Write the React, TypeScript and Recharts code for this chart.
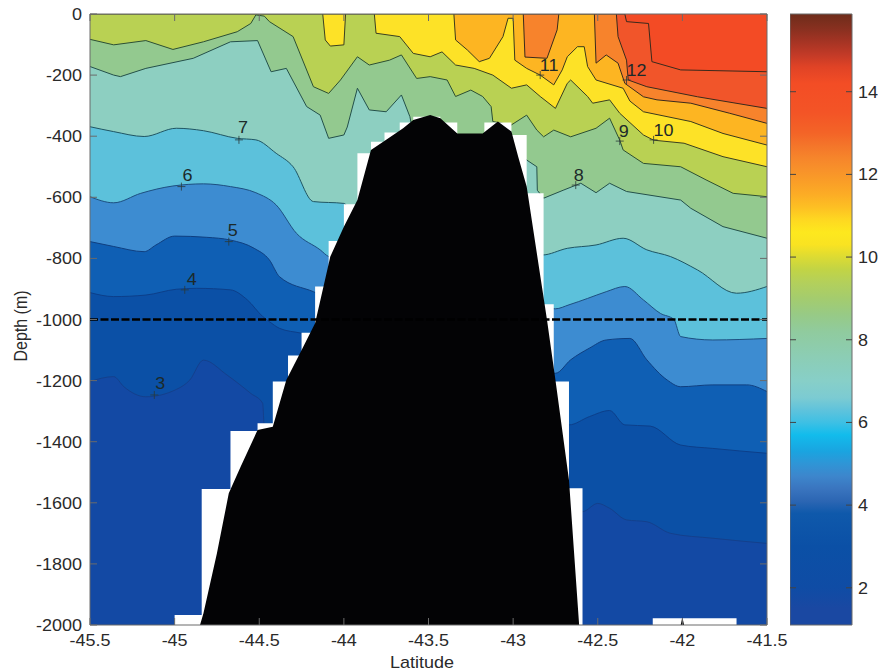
import { Area, ComposedChart, Line, ReferenceArea, Scatter, XAxis, YAxis } from "recharts"

type Pt = [number, number]

const latTicks = [-45.5, -45, -44.5, -44, -43.5, -43, -42.5, -42, -41.5]
const depthTicks = [0, -200, -400, -600, -800, -1000, -1200, -1400, -1600, -1800, -2000]
const colorbarTicks = [2, 4, 6, 8, 10, 12, 14]

// isotherms, [latitude, depth]
const surface: Pt[] = [[-45.5, 0], [-41.5, 0]]
const iso14: Pt[] = [[-45.5, 0], [-42.34, 0], [-42.33, -25], [-42.2, -31], [-42.18, -156], [-42.01, -183], [-41.5, -189]]
const iso13: Pt[] = [[-45.5, 0], [-42.39, 0], [-42.38, -74], [-42.33, -151], [-42.32, -216], [-42.21, -238], [-41.91, -271], [-41.5, -309]]
const iso12: Pt[] = [[-45.5, 0], [-42.94, 0], [-42.93, -141], [-42.8, -145], [-42.74, -52], [-42.73, 0], [-42.52, 0], [-42.51, -161], [-42.45, -134], [-42.38, -161], [-42.34, -227], [-42.23, -271], [-42.15, -281], [-41.95, -292], [-41.72, -325], [-41.5, -358]]
const iso11: Pt[] = [[-45.5, 0], [-43.35, 0], [-43.34, -85], [-43.27, -118], [-43.2, -156], [-43.14, -145], [-43.06, -74], [-43.03, -14], [-43.0, -14], [-42.99, -151], [-42.92, -178], [-42.84, -200], [-42.76, -232], [-42.71, -183], [-42.68, -140], [-42.62, -107], [-42.58, -107], [-42.56, -172], [-42.51, -216], [-42.35, -243], [-42.31, -285], [-42.23, -320], [-41.95, -352], [-41.76, -391], [-41.5, -429]]
const iso10: Pt[] = [[-45.5, 0], [-44.125, 0], [-44.11, -85], [-44.08, -105], [-44.0, -101], [-43.99, 0], [-43.82, 0], [-43.81, -63], [-43.67, -74], [-43.59, -129], [-43.49, -140], [-43.42, -124], [-43.34, -167], [-43.23, -178], [-43.12, -200], [-43.01, -243], [-42.92, -232], [-42.84, -270], [-42.75, -309], [-42.68, -227], [-42.66, -216], [-42.56, -270], [-42.53, -292], [-42.43, -281], [-42.37, -325], [-42.23, -396], [-42.17, -413], [-41.99, -423], [-41.76, -467], [-41.5, -500]]
const iso9: Pt[] = [[-45.5, -83], [-45.36, -101], [-45.17, -87], [-45.01, -116], [-44.83, -91], [-44.63, -58], [-44.55, -31], [-44.52, -3], [-44.47, -7], [-44.44, -25], [-44.3, -74], [-44.18, -238], [-44.09, -260], [-44.02, -216], [-43.92, -140], [-43.85, -167], [-43.73, -151], [-43.66, -134], [-43.57, -211], [-43.49, -205], [-43.39, -216], [-43.34, -270], [-43.25, -249], [-43.18, -270], [-43.13, -303], [-43.12, -352], [-43.01, -363], [-42.92, -331], [-42.86, -380], [-42.82, -402], [-42.76, -380], [-42.66, -402], [-42.51, -374], [-42.43, -341], [-42.37, -413], [-42.35, -445], [-42.23, -489], [-42.01, -500], [-41.86, -543], [-41.7, -587], [-41.5, -598]]
const iso8: Pt[] = [[-45.5, -172], [-45.36, -200], [-45.32, -205], [-45.17, -178], [-44.89, -145], [-44.67, -91], [-44.51, -87], [-44.43, -189], [-44.34, -178], [-44.22, -303], [-44.14, -331], [-44.09, -407], [-44.0, -396], [-43.98, -370], [-43.92, -243], [-43.85, -314], [-43.75, -320], [-43.66, -265], [-43.61, -336], [-43.58, -420], [-43.0, -430], [-42.92, -478], [-42.86, -500], [-42.857, -577], [-42.82, -603], [-42.7, -576], [-42.6, -554], [-42.51, -585], [-42.43, -554], [-42.33, -581], [-42.01, -609], [-41.95, -636], [-41.76, -696], [-41.5, -734]]
const iso7: Pt[] = [[-45.5, -369], [-45.36, -385], [-45.18, -401], [-44.99, -374], [-44.83, -382], [-44.63, -407], [-44.52, -412], [-44.4, -456], [-44.3, -500], [-44.18, -614], [-44.0, -620], [-43.9, -700], [-42.9, -780], [-42.83, -789], [-42.68, -767], [-42.51, -756], [-42.35, -734], [-42.21, -772], [-42.07, -794], [-41.91, -838], [-41.68, -914], [-41.5, -892]]
const iso6: Pt[] = [[-45.5, -598], [-45.36, -618], [-45.2, -587], [-45.01, -563], [-44.83, -556], [-44.67, -565], [-44.52, -585], [-44.4, -625], [-44.28, -718], [-44.14, -772], [-44.09, -794], [-42.75, -965], [-42.67, -952], [-42.56, -931], [-42.45, -909], [-42.34, -892], [-42.23, -936], [-42.13, -980], [-42.05, -1000], [-42.01, -1056], [-41.82, -1067], [-41.5, -1062]]
const iso5: Pt[] = [[-45.5, -745], [-45.36, -761], [-45.18, -778], [-45.11, -756], [-45.0, -727], [-44.81, -731], [-44.67, -740], [-44.53, -767], [-44.44, -805], [-44.38, -860], [-44.18, -909], [-42.75, -1176], [-42.66, -1132], [-42.55, -1094], [-42.45, -1067], [-42.31, -1062], [-42.21, -1132], [-42.09, -1198], [-42.01, -1220], [-41.82, -1214], [-41.62, -1214], [-41.5, -1236]]
const iso4: Pt[] = [[-45.5, -912], [-45.36, -925], [-45.17, -920], [-44.99, -901], [-44.87, -898], [-44.67, -903], [-44.57, -936], [-44.48, -990], [-44.44, -1007], [-44.38, -1029], [-44.25, -1045], [-42.67, -1345], [-42.55, -1318], [-42.43, -1298], [-42.34, -1345], [-42.19, -1349], [-42.01, -1411], [-41.82, -1422], [-41.5, -1438]]
const iso3: Pt[] = [[-45.5, -1203], [-45.36, -1187], [-45.3, -1220], [-45.17, -1253], [-44.99, -1229], [-44.91, -1198], [-44.83, -1133], [-44.69, -1182], [-44.55, -1242], [-44.48, -1274], [-44.47, -1351], [-42.59, -1629], [-42.5, -1602], [-42.43, -1618], [-42.33, -1656], [-42.21, -1662], [-42.07, -1700], [-41.82, -1716], [-41.5, -1733]]

// warm to cold, each one painted over the one before
const isotherms = [surface, iso14, iso13, iso12, iso11, iso10, iso9, iso8, iso7, iso6, iso5, iso4, iso3]
const bandColors = ["#f34b25", "#f1552a", "#f7832c", "#fdb522", "#fde227", "#b9d153", "#93c98f", "#8dcfc1", "#5cc1db", "#3d8cd1", "#0f5fb4", "#0b50a6", "#1349a4"]
const lineColors = ["none", "#3a2a1c", "#3a2a1c", "#3a2a1c", "#3a3a1c", "#3a3f20", "#2c4f33", "#24504a", "#1f5563", "#1d4f80", "#0f3f80", "#0c3f8a", "#14408c"]
// the warm contours are jagged in the source, the deep ones are smooth
const curveTypes = ["linear", "linear", "linear", "linear", "linear", "linear", "linear", "linear", "monotoneX", "monotoneX", "monotoneX", "monotoneX", "monotoneX"]

const bathymetry: Pt[] = [[-44.85, -2000], [-44.83, -1962], [-44.75, -1765], [-44.68, -1569], [-44.61, -1482], [-44.51, -1362], [-44.42, -1351], [-44.34, -1198], [-44.26, -1111], [-44.17, -1012], [-44.08, -794], [-44.0, -696], [-43.92, -609], [-43.84, -445], [-43.75, -412], [-43.65, -374], [-43.59, -347], [-43.49, -331], [-43.43, -341], [-43.33, -391], [-43.18, -391], [-43.09, -352], [-43.01, -385], [-42.97, -467], [-42.92, -565], [-42.83, -892], [-42.8, -1001], [-42.75, -1198], [-42.67, -1525], [-42.61, -2000], [-42.01, -2000], [-42.0, -1975], [-41.99, -2000]]
const gridFloor: Pt[] = [[-45.5, -2000], [-45.0, -1967], [-44.84, -1555], [-44.67, -1365], [-44.51, -1340], [-44.42, -1203], [-44.33, -1118], [-44.25, -1043], [-44.17, -892], [-44.09, -743], [-44.0, -623], [-43.92, -456], [-43.84, -418], [-43.76, -388], [-43.67, -355], [-43.59, -336], [-43.43, -355], [-43.33, -400], [-43.17, -355], [-43.01, -396], [-42.92, -587], [-42.82, -950], [-42.76, -1203], [-42.67, -1552], [-42.59, -2000], [-42.175, -1978], [-41.68, -2000], [-41.5, -2000]]
const dashedDepth: Pt[] = [[-45.5, -1000], [-41.5, -1000]]

const contourLabels = [
  { lat: -45.12, depth: -1247, text: "3", dx: 6, dy: -6 },
  { lat: -44.94, depth: -903, text: "4", dx: 7, dy: -5 },
  { lat: -44.68, depth: -745, text: "5", dx: 4, dy: -6 },
  { lat: -44.96, depth: -565, text: "6", dx: 6, dy: -6 },
  { lat: -44.62, depth: -412, text: "7", dx: 4, dy: -7 },
  { lat: -42.63, depth: -560, text: "8", dx: 3, dy: -4 },
  { lat: -42.37, depth: -416, text: "9", dx: 4, dy: -4 },
  { lat: -42.17, depth: -412, text: "10", dx: 10, dy: -4 },
  { lat: -42.84, depth: -200, text: "11", dx: 9, dy: -4 },
  { lat: -42.33, depth: -216, text: "12", dx: 10, dy: -4 },
]

const colorbarValues = [15.88, 15.5, 15.2, 14.9, 14.6, 14.2, 13.5, 13, 12.7, 12.4, 12.1, 11.8, 11.5, 11.2, 10.9, 10.6, 10.3, 10, 9.7, 9.4, 9, 8.6, 8.2, 7.6, 7, 6.6, 6.3, 6, 5.7, 5.3, 5, 4.7, 4.4, 4.1, 3.8, 3, 2, 1.5]
const colorbarColors = ["#6d2c1a", "#8a3020", "#a63424", "#c23a27", "#e04326", "#f34d25", "#f35426", "#f36427", "#f4752a", "#f6852b", "#f8922a", "#fa9f27", "#fcad25", "#fdc023", "#fed821", "#fde81e", "#f9e322", "#dcdb33", "#c2d445", "#b4d05a", "#a4cc6e", "#97ca86", "#90cb9e", "#8ccdb4", "#87cfc8", "#7ccbd2", "#5fc3dc", "#3ec0e4", "#12bcec", "#1aa4e0", "#2f95d6", "#3d86cc", "#3a75bf", "#2c66b3", "#0f59ab", "#0b50a6", "#0f4ca5", "#1a48a2"]
const colorbarRange = [1.1, 15.88]

const FONT = "'Liberation Sans', Arial, sans-serif"
const TEXT = "#2a2a2a"
const FRAME = "#6b6b6b"
const PLOT_TOP = 14
const PLOT_BOTTOM = 625
const PLOT_LEFT = 90
const PLOT_RIGHT = 767
const TICK_LEN = 7

const rows = (pts: Pt[]) => pts.map(([lat, depth]) => ({ lat, depth }))

// the source figure is stretched sideways a bit, so the text is too
const stretched = (x: number, y: number) => `translate(${x} ${y}) scale(1.125 1)`

function LatTick({ x, payload }: any) {
  return (
    <g>
      <line x1={x} x2={x} y1={PLOT_BOTTOM} y2={PLOT_BOTTOM - TICK_LEN} stroke={FRAME} />
      <line x1={x} x2={x} y1={PLOT_TOP} y2={PLOT_TOP + TICK_LEN} stroke={FRAME} />
      <text transform={stretched(x, PLOT_BOTTOM + 21)} textAnchor="middle" fontSize={16} fontFamily={FONT} fill={TEXT}>
        {String(payload.value)}
      </text>
    </g>
  )
}

function DepthTick({ x, y, payload }: any) {
  return (
    <g>
      <line x1={PLOT_LEFT} x2={PLOT_LEFT + TICK_LEN} y1={y} y2={y} stroke={FRAME} />
      <line x1={PLOT_RIGHT} x2={PLOT_RIGHT - TICK_LEN} y1={y} y2={y} stroke={FRAME} />
      <text transform={stretched(x - 6, y + 6)} textAnchor="end" fontSize={16} fontFamily={FONT} fill={TEXT}>
        {String(payload.value)}
      </text>
    </g>
  )
}

function ColorbarTick({ y, payload }: any) {
  return (
    <g>
      <line x1={0} x2={6} y1={y} y2={y} stroke="#444" />
      <line x1={56} x2={62} y1={y} y2={y} stroke="#444" />
      <text transform={stretched(68, y + 6)} fontSize={16} fontFamily={FONT} fill={TEXT}>
        {String(payload.value)}
      </text>
    </g>
  )
}

function LabelMark({ cx, cy, payload }: any) {
  return (
    <g>
      <line x1={cx - 4} x2={cx + 4} y1={cy} y2={cy} stroke="#2b3a3a" strokeWidth={0.8} />
      <line x1={cx} x2={cx} y1={cy - 4} y2={cy + 4} stroke="#2b3a3a" strokeWidth={0.8} />
      <text transform={stretched(cx + payload.dx, cy + payload.dy)} textAnchor="middle" fontSize={16} fontFamily={FONT} fill="#1c2a2a">
        {payload.text}
      </text>
    </g>
  )
}

export default function App() {
  const [barLow, barHigh] = colorbarRange
  return (
    <div style={{ position: "absolute", left: 0, top: 0, width: 878, height: 671, background: "#fff" }}>
      <div style={{ position: "absolute", left: 0, top: 0 }}>
        <ComposedChart width={878} height={671} margin={{ top: 14, right: 111, bottom: 0, left: 0 }}>
          {isotherms.map((pts, i) => (
            <Area
              key={i}
              data={rows(pts)}
              dataKey="depth"
              type={curveTypes[i] as any}
              baseValue={-2000}
              fill={bandColors[i]}
              fillOpacity={1}
              stroke={lineColors[i]}
              strokeWidth={1}
              dot={false}
              activeDot={false}
              isAnimationActive={false}
            />
          ))}
          <Area data={rows(gridFloor)} dataKey="depth" type="stepAfter" baseValue={-2000} fill="#ffffff" fillOpacity={1} stroke="none" dot={false} activeDot={false} isAnimationActive={false} />
          <Line data={rows(dashedDepth)} dataKey="depth" type="linear" stroke="#000000" strokeWidth={2.5} strokeDasharray="8 2.5" dot={false} activeDot={false} isAnimationActive={false} />
          <Area data={rows(bathymetry)} dataKey="depth" type="linear" baseValue={-2000} fill="#030305" fillOpacity={1} stroke="none" dot={false} activeDot={false} isAnimationActive={false} />
          <Scatter data={contourLabels} dataKey="depth" shape={LabelMark} isAnimationActive={false} />
          <ReferenceArea x1={-45.5} x2={-41.5} y1={-2000} y2={0} fill="none" stroke={FRAME} strokeWidth={1} ifOverflow="visible" />
          <XAxis
            dataKey="lat"
            type="number"
            domain={[-45.5, -41.5]}
            ticks={latTicks}
            height={46}
            tickSize={0}
            tickLine={false}
            axisLine={false}
            interval={0}
            allowDataOverflow
            tick={LatTick}
            label={{
              content: () => (
                <text transform={stretched(422, 668)} textAnchor="middle" fontSize={16} fontFamily={FONT} fill={TEXT}>
                  Latitude
                </text>
              ),
            }}
          />
          <YAxis
            dataKey="depth"
            type="number"
            domain={[-2000, 0]}
            ticks={depthTicks}
            width={90}
            tickSize={0}
            tickLine={false}
            axisLine={false}
            interval={0}
            allowDataOverflow
            tick={DepthTick}
            label={{
              content: () => (
                <text transform={`${stretched(27, 326)} rotate(-90)`} textAnchor="middle" fontSize={16} fontFamily={FONT} fill={TEXT}>
                  Depth (m)
                </text>
              ),
            }}
          />
        </ComposedChart>
      </div>
      <div style={{ position: "absolute", left: 790, top: 0 }}>
        <ComposedChart width={88} height={671} margin={{ top: 14, right: 0, bottom: 46, left: 0 }}>
          <defs>
            <linearGradient id="tempScale" x1="0" y1="0" x2="0" y2="1">
              {colorbarValues.map((v, i) => (
                <stop key={v} offset={(barHigh - v) / (barHigh - barLow)} stopColor={colorbarColors[i]} />
              ))}
            </linearGradient>
          </defs>
          <Area
            data={[{ pos: 0, temp: barHigh }, { pos: 1, temp: barHigh }]}
            dataKey="temp"
            type="linear"
            baseValue={barLow}
            fill="url(#tempScale)"
            fillOpacity={1}
            stroke="none"
            dot={false}
            activeDot={false}
            isAnimationActive={false}
          />
          <ReferenceArea x1={0} x2={1} y1={barLow} y2={barHigh} fill="none" stroke={FRAME} strokeWidth={1} ifOverflow="visible" />
          <XAxis dataKey="pos" type="number" domain={[0, 1]} hide />
          <YAxis
            orientation="right"
            dataKey="temp"
            type="number"
            domain={[barLow, barHigh]}
            ticks={colorbarTicks}
            width={26}
            tickSize={0}
            tickLine={false}
            axisLine={false}
            interval={0}
            allowDataOverflow
            tick={ColorbarTick}
          />
        </ComposedChart>
      </div>
    </div>
  )
}
